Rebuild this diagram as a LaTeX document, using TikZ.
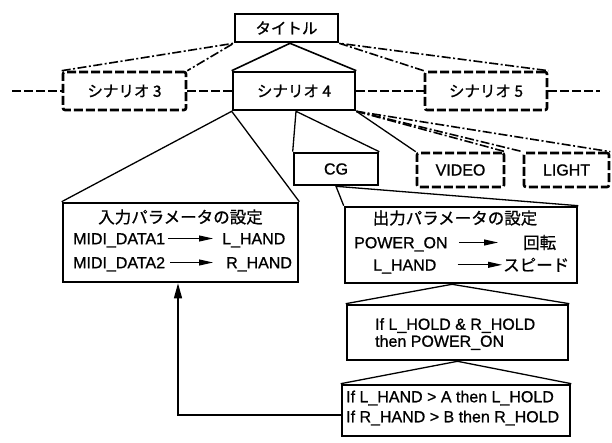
\documentclass[tikz,border=0pt]{standalone}
\usepackage{fontspec}
\setmainfont{Liberation Sans}[FakeBold=0.9]
\newfontfamily\jpfont{Noto Sans CJK JP}[FakeBold=0.9]
\usetikzlibrary{arrows.meta}
\begin{document}
\begin{tikzpicture}[x=1pt,y=-1pt,
  bx/.style={draw, line width=2.6pt, inner sep=0pt, font=\fontsize{16}{19}\selectfont},
  jbx/.style={bx, font=\jpfont\fontsize{15.5}{18}\selectfont},
  dsh/.style={dash pattern=on 9pt off 3pt, rounded corners=2pt},
  conn/.style={line width=1.3pt},
  dd/.style={line width=1.6pt, dash pattern=on 9pt off 2.5pt on 2pt off 2.5pt},
  hl/.style={line width=2.6pt, dash pattern=on 9pt off 3pt},
  tx/.style={inner sep=0pt, anchor=west, text height=11.5pt, text depth=0pt, font=\fontsize{16}{19}\selectfont},
  jt/.style={inner sep=0pt, font=\jpfont\fontsize{16.5}{19}\selectfont},
  tarr/.style={line width=1pt, -{Triangle[length=14pt,width=6pt]}},
]
\useasboundingbox (0,0) rectangle (612,443);

% boxes
\node[jbx, minimum width=103pt, minimum height=28pt] (title) at (286.5,28) {タイトル};
\node[jbx, dsh, minimum width=123pt, minimum height=38pt] (s3) at (124.5,91) {シナリオ 3};
\node[jbx, minimum width=122pt, minimum height=38pt] (s4) at (294,91) {シナリオ 4};
\node[jbx, dsh, minimum width=122pt, minimum height=38pt] (s5) at (486,91) {シナリオ 5};
\node[bx, minimum width=84pt, minimum height=32pt] (cg) at (336,169) {CG};
\node[bx, dsh, minimum width=87pt, minimum height=34pt] (video) at (460.5,170) {VIDEO};
\node[bx, dsh, minimum width=85pt, minimum height=34pt] (light) at (566.5,170) {LIGHT};
\node[bx, minimum width=235pt, minimum height=79pt] (inp) at (180.5,242.5) {};
\node[bx, minimum width=232pt, minimum height=76pt] (outp) at (461,245) {};
\node[bx, minimum width=221pt, minimum height=55pt] (r1) at (457.5,332.5) {};
\node[bx, minimum width=228pt, minimum height=51pt] (r2) at (456,410.5) {};

% texts in boxes
\node[jt] (in0) at (180.5,217) {入力パラメータの設定};
\node[tx] (in1a) at (73,238.5) {MIDI\_DATA1};
\node[tx] (in1b) at (222,238.5) {L\_HAND};
\node[tx] (in2a) at (73,262.5) {MIDI\_DATA2};
\node[tx] (in2b) at (226,262.5) {R\_HAND};
\draw[tarr] ([xshift=3pt]in1a.east) -- ([xshift=-9pt]in1b.west);
\draw[tarr] ([xshift=5pt]in2a.east) -- ([xshift=-13pt]in2b.west);

\node[jt] (out0) at (455,218) {出力パラメータの設定};
\node[tx] (out1a) at (354,242.5) {POWER\_ON};
\node[jt, anchor=west] (out1b) at (523,242.5) {回転};
\node[tx] (out2a) at (373,264.8) {L\_HAND};
\node[jt, anchor=west] (out2b) at (503,264.8) {スピード};
\draw[tarr] ([xshift=11pt]out1a.east) -- ([xshift=-25pt]out1b.west);
\draw[tarr] ([xshift=21pt]out2a.east) -- ([xshift=-1pt]out2b.west);

\node[tx] (r1t1) at (375,324) {If L\_HOLD \& R\_HOLD};
\node[tx] (r1t2) at (375,341) {then POWER\_ON};
\node[tx] (r2t1) at (346,396.5) {If L\_HAND > A then L\_HOLD};
\node[tx] (r2t2) at (346,416.5) {If R\_HAND > B then R\_HOLD};

% apex coordinates
\coordinate (t4) at ([xshift=3.5pt]title.south);
\coordinate (cga) at ([xshift=2pt]s4.south);
\coordinate (r1a) at ([xshift=-9pt]outp.south);
\coordinate (hl0) at (12,91);
\coordinate (hl1) at (600,91);

% connectors
\draw[dd] (s3.north west) -- (title.south west) -- (s3.north east);
\draw[conn, line width=1.6pt] (s4.north west) -- (t4) -- (s4.north east);
\draw[dd] (s5.north west) -- (title.south east) -- (s5.north east);

\draw[hl] (hl0) -- (s3.west);
\draw[hl] (s3.east) -- (s4.west);
\draw[hl] (s4.east) -- (s5.west);
\draw[hl] (s5.east) -- (hl1);

\draw[conn] (inp.north west) -- (s4.south west) -- (inp.north east);
\draw[conn] (cg.north west) -- (cga) -- (cg.north east);
\draw[conn] (s4.south east) -- (video.north west);
\draw[dd] (s4.south east) -- (video.north east);
\draw[dd] (s4.south east) -- (light.north west);
\draw[dd] (s4.south east) -- (light.north east);
\draw[conn] (outp.north west) -- (cg.south) -- (outp.north east);
\draw[conn] (r1.north west) -- (r1a) -- (r1.north east);
\draw[conn] (r2.north west) -- (r1.south) -- (r2.north east);

\draw[conn, -{Triangle[length=15pt,width=8pt]}] ([yshift=-4.5pt]r2.west) -| ([xshift=-2.5pt]inp.south);
\end{tikzpicture}
\end{document}
